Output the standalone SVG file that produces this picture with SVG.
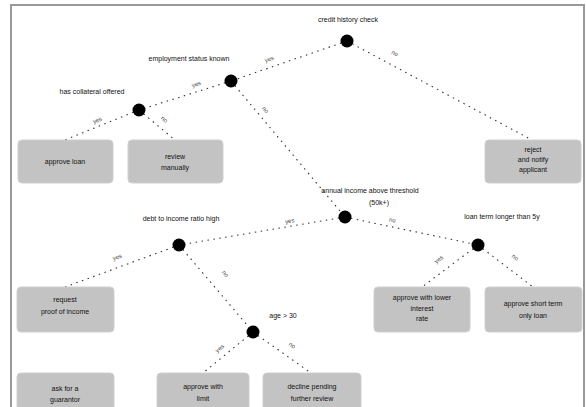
<svg xmlns="http://www.w3.org/2000/svg" width="586" height="407" viewBox="0 0 586 407">
<style>
.edge{stroke:#333;stroke-width:1.1;stroke-dasharray:1.5 4.5;fill:none}
.dot{fill:#000}
.nl{font-family:"Liberation Sans",Arial,sans-serif;font-size:7px;fill:#111;text-anchor:middle}
.el{font-family:"Liberation Sans",Arial,sans-serif;font-size:6px;fill:#444;text-anchor:middle}
.leaf{fill:#c3c3c3;stroke:#cfcfcf;stroke-width:1}
.lt{font-family:"Liberation Sans",Arial,sans-serif;font-size:7px;fill:#111;text-anchor:middle}
</style>
<rect x="0" y="0" width="586" height="407" fill="#fff"/>
<rect x="11" y="5" width="573" height="412" fill="none" stroke="#999" stroke-width="2"/>
<g id="connectors">
<line class="edge" x1="347" y1="41" x2="231" y2="81"/>
<line class="edge" x1="347" y1="41" x2="532" y2="140"/>
<line class="edge" x1="231" y1="81" x2="139" y2="110"/>
<line class="edge" x1="231" y1="81" x2="345" y2="217"/>
<line class="edge" x1="139" y1="110" x2="65" y2="140"/>
<line class="edge" x1="139" y1="110" x2="175" y2="140"/>
<line class="edge" x1="345" y1="217" x2="179" y2="245"/>
<line class="edge" x1="345" y1="217" x2="478" y2="245"/>
<line class="edge" x1="179" y1="245" x2="65" y2="287"/>
<line class="edge" x1="179" y1="245" x2="253" y2="332"/>
<line class="edge" x1="478" y1="245" x2="422" y2="287"/>
<line class="edge" x1="478" y1="245" x2="533" y2="287"/>
<line class="edge" x1="253" y1="332" x2="203" y2="373"/>
<line class="edge" x1="253" y1="332" x2="311" y2="373"/>
<text class="el" transform="translate(270,61) rotate(-19)">yes</text>
<text class="el" transform="translate(394,55) rotate(28)">no</text>
<text class="el" transform="translate(197,86) rotate(-18)">yes</text>
<text class="el" transform="translate(264,111) rotate(50)">no</text>
<text class="el" transform="translate(98,122) rotate(-22)">yes</text>
<text class="el" transform="translate(163,121) rotate(40)">no</text>
<text class="el" transform="translate(290,223) rotate(-10)">yes</text>
<text class="el" transform="translate(392,222) rotate(12)">no</text>
<text class="el" transform="translate(118,259) rotate(-20)">yes</text>
<text class="el" transform="translate(224,275) rotate(50)">no</text>
<text class="el" transform="translate(440,261) rotate(-37)">yes</text>
<text class="el" transform="translate(514,259) rotate(37)">no</text>
<text class="el" transform="translate(221,350) rotate(-39)">yes</text>
<text class="el" transform="translate(291,347) rotate(35)">no</text>
</g>
<g id="n1"><text class="nl" x="348" y="22">credit history check</text><circle class="dot" cx="347" cy="41" r="6.5"/></g>
<g id="n2"><text class="nl" x="189" y="61">employment status known</text><circle class="dot" cx="231" cy="81" r="6.5"/></g>
<g id="n3"><text class="nl" x="92" y="94">has collateral offered</text><circle class="dot" cx="139" cy="110" r="6.5"/></g>
<g id="n4"><text class="nl" x="370" y="193">annual income above threshold</text><text class="nl" x="379" y="205">(50k+)</text><circle class="dot" cx="345" cy="217" r="6.5"/></g>
<g id="n5"><text class="nl" x="181" y="221">debt to income ratio high</text><circle class="dot" cx="179" cy="245" r="6.5"/></g>
<g id="n6"><text class="nl" x="502" y="219">loan term longer than 5y</text><circle class="dot" cx="478" cy="245" r="6.5"/></g>
<g id="n7"><text class="nl" x="283" y="318">age &gt; 30</text><circle class="dot" cx="253" cy="332" r="6.5"/></g>
<g id="leaf1"><rect class="leaf" x="18" y="140" width="95" height="43" rx="4"/><text class="lt" x="65" y="164">approve loan</text></g>
<g id="leaf2"><rect class="leaf" x="128" y="140" width="95" height="43" rx="4"/><text class="lt" x="175" y="159">review</text><text class="lt" x="175" y="170">manually</text></g>
<g id="leaf3"><rect class="leaf" x="485" y="140" width="96" height="43" rx="4"/><text class="lt" x="533" y="152">reject</text><text class="lt" x="533" y="162">and notify</text><text class="lt" x="533" y="172">applicant</text></g>
<g id="leaf4"><rect class="leaf" x="17" y="287" width="97" height="45" rx="4"/><text class="lt" x="65" y="302">request</text><text class="lt" x="65" y="314">proof of income</text></g>
<g id="leaf5"><rect class="leaf" x="374" y="287" width="96" height="45" rx="4"/><text class="lt" x="422" y="300">approve with lower</text><text class="lt" x="422" y="311">interest</text><text class="lt" x="422" y="321">rate</text></g>
<g id="leaf6"><rect class="leaf" x="485" y="287" width="97" height="45" rx="4"/><text class="lt" x="533" y="306">approve short term</text><text class="lt" x="533" y="318">only loan</text></g>
<g id="leaf7"><rect class="leaf" x="17" y="373" width="97" height="45" rx="4"/><text class="lt" x="65" y="391">ask for a</text><text class="lt" x="65" y="402">guarantor</text></g>
<g id="leaf8"><rect class="leaf" x="157" y="373" width="92" height="45" rx="4"/><text class="lt" x="203" y="389">approve with</text><text class="lt" x="203" y="401">limit</text></g>
<g id="leaf9"><rect class="leaf" x="263" y="373" width="98" height="45" rx="4"/><text class="lt" x="312" y="389">decline pending</text><text class="lt" x="312" y="401">further review</text></g>
</svg>
